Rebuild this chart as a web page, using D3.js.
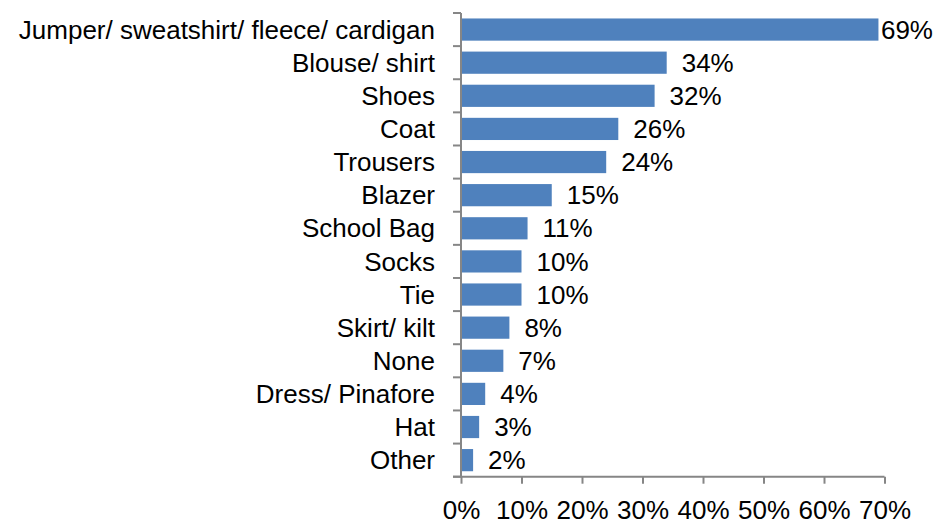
<!DOCTYPE html>
<html>
<head>
<meta charset="utf-8">
<script src="https://cdn.jsdelivr.net/npm/d3@7"></script>
<style>
  html, body { margin: 0; padding: 0; background: #fff; }
  svg { display: block; }
  text { font-family: "Liberation Sans", Arial, sans-serif; fill: #000; }
</style>
</head>
<body>
<svg id="chart" width="936" height="527"></svg>
<script>
const categories = ["Jumper/ sweatshirt/ fleece/ cardigan", "Blouse/ shirt", "Shoes", "Coat", "Trousers", "Blazer", "School Bag", "Socks", "Tie", "Skirt/ kilt", "None", "Dress/ Pinafore", "Hat", "Other"];
const values = [69, 34, 32, 26, 24, 15, 11, 10, 10, 8, 7, 4, 3, 2];
const xTicks = [0, 10, 20, 30, 40, 50, 60, 70];

const W = 936, H = 527;
const margin = { left: 461, top: 13 };
const svg = d3.select("#chart");

const x = d3.scaleLinear().domain([0, 70]).range([margin.left, 884.5]);
const y = d3.scaleBand().domain(categories).range([margin.top, 476.7]).paddingInner(0.33).paddingOuter(0.165);
const yb = d3.scaleBand().domain(categories).range([margin.top, 476.7]);

const axisColor = "#868686";
const fs = 26;

// bars
svg.append("g").selectAll("rect").data(categories).join("rect")
  .attr("x", x(0))
  .attr("y", d => y(d))
  .attr("width", (d, i) => x(values[i]) - x(0))
  .attr("height", y.bandwidth())
  .attr("fill", "#4F81BD");

// y axis
const gy = svg.append("g").attr("transform", `translate(${x(0)},0)`);
gy.append("line").attr("x1", 0).attr("x2", 0).attr("y1", margin.top).attr("y2", 476.7)
  .attr("stroke", axisColor).attr("stroke-width", 2);
const yTickPos = categories.map(c => yb(c)).concat([476.7]);
gy.selectAll("line.t").data(yTickPos).join("line").attr("class", "t")
  .attr("x1", -8).attr("x2", 0).attr("y1", d => d).attr("y2", d => d)
  .attr("stroke", axisColor).attr("stroke-width", 2);
gy.selectAll("text").data(categories).join("text")
  .attr("x", -26)
  .attr("y", d => yb(d) + yb.bandwidth() / 2)
  .attr("dy", "0.35em")
  .attr("text-anchor", "end")
  .style("font-size", fs + "px")
  .text(d => d);

// x axis
const xAxis = d3.axisBottom(x).tickValues(xTicks).tickSize(7).tickFormat(d => d + "%");
const gx = svg.append("g").attr("transform", `translate(0,476.7)`).call(xAxis);
gx.select(".domain").attr("stroke", axisColor).attr("stroke-width", 2).attr("d", `M${x(0) - 8},0H${x(70)}`);
gx.selectAll(".tick line").attr("stroke", axisColor).attr("stroke-width", 2);
gx.selectAll(".tick text").attr("y", 33).attr("dy", "0.35em")
  .style("font-size", fs + "px").style("font-family", "'Liberation Sans', Arial, sans-serif").attr("fill", "#000");

// value labels
const lbl = svg.append("g").selectAll("text").data(categories).join("text")
  .attr("y", d => y(d) + y.bandwidth() / 2)
  .attr("dy", "0.35em")
  .style("font-size", fs + "px")
  .text((d, i) => values[i] + "%");
lbl.each(function (d, i) {
  const w = this.getComputedTextLength();
  let px = x(values[i]) + 15;
  if (px + w > W - 3) px = W - 3 - w;
  d3.select(this).attr("x", px);
});
</script>
</body>
</html>
